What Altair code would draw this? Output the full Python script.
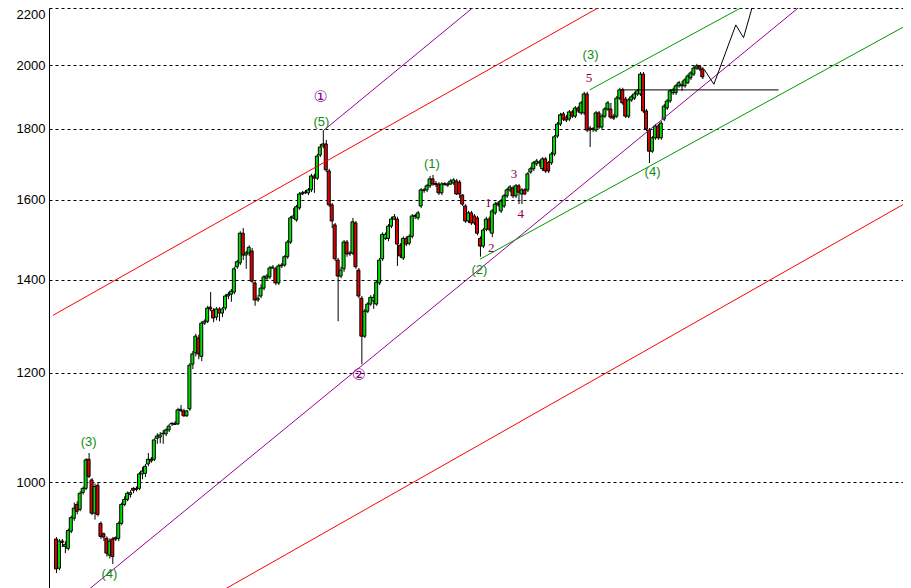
import altair as alt
import pandas as pd

# ---------------- candle data (one candle per period) ----------------
opens = [
    910, 867, 907, 899, 896, 922, 942, 964, 956, 983,
    990, 1039, 1004, 950, 995, 934, 918, 911, 886, 910,
    912, 911, 934, 964, 972, 980, 990, 988, 990, 1014,
    1015, 1031, 1039, 1039, 1076, 1078, 1084, 1084, 1091, 1102,
    1101, 1102, 1127, 1126, 1117, 1130, 1217, 1240, 1271, 1233,
    1303, 1307, 1338, 1331, 1316, 1334, 1325, 1336, 1363, 1367,
    1372, 1431, 1440, 1513, 1459, 1464, 1469, 1393, 1354, 1363,
    1381, 1404, 1407, 1428, 1426, 1393, 1433, 1435, 1455, 1491,
    1552, 1547, 1578, 1615, 1618, 1618, 1626, 1664, 1658, 1723,
    1749, 1755, 1678, 1586, 1534, 1447, 1409, 1426, 1491, 1462,
    1464, 1539, 1423, 1358, 1275, 1329, 1345, 1352, 1345, 1393,
    1450, 1500, 1500, 1531, 1549, 1549, 1483, 1452, 1500, 1488,
    1505, 1556, 1552, 1583, 1624, 1626, 1637, 1656, 1641, 1642,
    1618, 1641, 1642, 1642, 1645, 1650, 1647, 1612, 1583, 1544,
    1565, 1557, 1552, 1500, 1481, 1523, 1549, 1513, 1565, 1591,
    1570, 1583, 1610, 1626, 1631, 1610, 1637, 1615, 1626, 1626,
    1675, 1684, 1698, 1701, 1684, 1712, 1701, 1701, 1726, 1778,
    1814, 1845, 1835, 1829, 1851, 1838, 1863, 1848, 1848, 1907,
    1802, 1798, 1796, 1848, 1805, 1838, 1860, 1860, 1838, 1838,
    1894, 1920, 1891, 1838, 1888, 1894, 1907, 1907, 1971, 1854,
    1796, 1734, 1773, 1808, 1773, 1829, 1863, 1885, 1911, 1911,
    1933, 1936, 1933, 1943, 1959, 1971, 1991, 1998, 1988,
]
closes = [
    866, 907, 905, 902, 923, 943, 958, 953, 982, 990,
    1038, 1010, 950, 993, 948, 914, 913, 889, 907, 884,
    910, 934, 964, 972, 982, 983, 987, 990, 1014, 1019,
    1027, 1039, 1036, 1073, 1080, 1082, 1085, 1091, 1098, 1103,
    1103, 1128, 1129, 1117, 1126, 1215, 1238, 1275, 1238, 1303,
    1307, 1336, 1334, 1314, 1334, 1325, 1334, 1363, 1367, 1374,
    1426, 1443, 1513, 1459, 1464, 1478, 1397, 1354, 1358, 1381,
    1407, 1409, 1428, 1430, 1393, 1433, 1435, 1455, 1491, 1552,
    1557, 1581, 1615, 1618, 1620, 1626, 1664, 1658, 1720, 1746,
    1755, 1681, 1586, 1544, 1450, 1409, 1423, 1491, 1462, 1464,
    1542, 1431, 1363, 1275, 1329, 1345, 1360, 1360, 1395, 1447,
    1510, 1510, 1531, 1549, 1555, 1486, 1457, 1500, 1486, 1505,
    1557, 1558, 1565, 1626, 1626, 1637, 1656, 1642, 1643, 1618,
    1642, 1643, 1639, 1650, 1653, 1615, 1615, 1588, 1544, 1565,
    1539, 1539, 1513, 1481, 1521, 1549, 1523, 1570, 1588, 1586,
    1596, 1610, 1626, 1634, 1610, 1637, 1620, 1626, 1615, 1670,
    1684, 1701, 1706, 1703, 1712, 1678, 1678, 1726, 1776, 1814,
    1842, 1829, 1826, 1851, 1838, 1863, 1854, 1879, 1907, 1796,
    1796, 1800, 1848, 1805, 1838, 1860, 1879, 1835, 1832, 1894,
    1920, 1879, 1838, 1888, 1898, 1907, 1917, 1971, 1854, 1799,
    1734, 1773, 1808, 1773, 1817, 1869, 1885, 1917, 1920, 1933,
    1943, 1933, 1952, 1965, 1975, 1991, 1998, 1988, 1962,
]
highs = [
    913, 910, 910, 907, 926, 946, 967, 969, 985, 993,
    1041, 1050, 1007, 998, 1000, 937, 920, 914, 911, 913,
    914, 937, 967, 977, 985, 987, 992, 993, 1017, 1026,
    1031, 1050, 1043, 1076, 1085, 1087, 1091, 1094, 1102, 1105,
    1107, 1132, 1137, 1130, 1128, 1219, 1244, 1280, 1278, 1307,
    1311, 1341, 1372, 1336, 1338, 1338, 1338, 1367, 1372, 1379,
    1431, 1447, 1518, 1526, 1469, 1483, 1476, 1397, 1365, 1390,
    1411, 1414, 1433, 1435, 1431, 1438, 1440, 1459, 1496, 1557,
    1578, 1586, 1620, 1623, 1626, 1631, 1670, 1670, 1726, 1755,
    1793, 1767, 1684, 1591, 1539, 1452, 1431, 1496, 1496, 1469,
    1552, 1544, 1428, 1363, 1334, 1349, 1365, 1367, 1400, 1452,
    1515, 1515, 1536, 1555, 1562, 1555, 1488, 1505, 1505, 1510,
    1562, 1562, 1570, 1631, 1631, 1642, 1664, 1667, 1650, 1647,
    1647, 1647, 1647, 1656, 1658, 1656, 1653, 1615, 1588, 1570,
    1570, 1562, 1557, 1505, 1526, 1555, 1555, 1575, 1594, 1596,
    1602, 1615, 1631, 1639, 1637, 1642, 1642, 1631, 1631, 1675,
    1690, 1706, 1712, 1709, 1717, 1717, 1706, 1732, 1781, 1820,
    1848, 1851, 1842, 1857, 1857, 1869, 1869, 1885, 1914, 1914,
    1808, 1805, 1854, 1854, 1845, 1866, 1885, 1879, 1845, 1901,
    1927, 1927, 1898, 1894, 1904, 1914, 1923, 1978, 1978, 1860,
    1802, 1778, 1814, 1814, 1823, 1876, 1891, 1923, 1927, 1939,
    1949, 1949, 1959, 1971, 1981, 1998, 2005, 2001, 1994,
]
lows = [
    860, 864, 898, 889, 893, 919, 938, 948, 953, 980,
    987, 1007, 947, 940, 945, 910, 907, 884, 881, 873,
    907, 907, 931, 961, 969, 975, 982, 985, 987, 1005,
    1009, 1027, 1033, 1036, 1066, 1067, 1066, 1080, 1087, 1098,
    1100, 1100, 1124, 1115, 1115, 1126, 1207, 1233, 1227, 1223,
    1299, 1303, 1329, 1305, 1309, 1307, 1316, 1331, 1356, 1350,
    1367, 1426, 1435, 1447, 1426, 1457, 1393, 1341, 1350, 1358,
    1376, 1400, 1402, 1426, 1388, 1388, 1428, 1431, 1450, 1486,
    1549, 1542, 1573, 1612, 1615, 1612, 1620, 1618, 1653, 1717,
    1743, 1675, 1581, 1526, 1445, 1307, 1404, 1419, 1455, 1457,
    1459, 1426, 1358, 1217, 1271, 1325, 1341, 1334, 1341, 1388,
    1445, 1496, 1493, 1526, 1547, 1433, 1452, 1447, 1481, 1483,
    1500, 1549, 1547, 1578, 1618, 1620, 1631, 1637, 1634, 1612,
    1612, 1637, 1634, 1639, 1639, 1612, 1604, 1583, 1539, 1539,
    1534, 1534, 1508, 1455, 1476, 1518, 1518, 1503, 1560, 1581,
    1565, 1578, 1604, 1620, 1604, 1604, 1588, 1588, 1612, 1620,
    1670, 1678, 1692, 1690, 1678, 1672, 1672, 1695, 1720, 1772,
    1808, 1823, 1820, 1823, 1832, 1832, 1848, 1842, 1842, 1790,
    1746, 1790, 1790, 1799, 1799, 1832, 1854, 1829, 1826, 1832,
    1888, 1873, 1832, 1832, 1882, 1888, 1901, 1901, 1848, 1793,
    1700, 1729, 1767, 1767, 1767, 1823, 1857, 1879, 1904, 1904,
    1927, 1917, 1927, 1939, 1952, 1965, 1985, 1981, 1955,
]

# ---------------- drawn trend lines: (period index, price) end points ----------------
red_upper_i = [-1, 187]
red_upper_v = [1320, 2226]
red_lower_i = [54.7, 288]
red_lower_v = [832, 1597]
purple_lower_i = [3, 259.7]
purple_lower_v = [810, 2285]
purple_upper_i = [90, 148]
purple_upper_v = [1793, 2268]
green_lower_i = [143, 289.7]
green_lower_v = [1449, 2154]
green_upper_i = [180, 241.3]
green_upper_v = [1920, 2262]
level_i = [190.3, 243.7]
level_v = [1920, 1920]
path_i = [218.6, 221.9, 229.3, 231.9, 236.3]
path_v = [1987, 1938, 2139, 2094, 2260]

# ---------------- wave labels ----------------
wave_text = ["(3)", "(4)", "(5)", "(1)", "(2)", "(3)", "(4)"]
wave_i = [11, 18, 89.5, 126.8, 142.8, 180.3, 201.2]
wave_v = [1069, 858, 1820, 1697, 1424, 2036, 1675]
circle_text = ["\u2460", "\u2461"]
circle_i = [89.3, 102.2]
circle_v = [1897, 1195]
sub_text = ["1", "2", "3", "4", "5"]
sub_i = [145.8, 146.8, 154.5, 156.8, 179.8]
sub_v = [1591, 1476, 1669, 1562, 1957]

y_ticks = [1000, 1200, 1400, 1600, 1800, 2000, 2200]

# ---------------- build ----------------
n = len(closes)
assert len(opens) == n and len(highs) == n and len(lows) == n
candles = pd.DataFrame({"i": list(range(n)), "open": opens, "high": highs,
                        "low": lows, "close": closes})
candles["dir"] = ["up" if c >= o else "down" for o, c in zip(opens, closes)]

PLOT_W = 854
xs = alt.Scale(domain=[-2 / 3, PLOT_W / 3 - 2 / 3], nice=False, zero=False)
ys = alt.Scale(type="log", domain=[838.9, 2200], nice=False, zero=False)
yaxis = alt.Axis(values=y_ticks, title=None, grid=True, ticks=False,
                 gridDash=[3, 3], gridColor="#000000", gridOpacity=1, gridWidth=1,
                 domainColor="#000000", domainWidth=1, labelColor="#000000",
                 labelFont="Liberation Sans", labelFontSize=13, labelPadding=4,
                 labelFlush=True, labelOverlap=False, format="d")


def X(f):
    return alt.X(f, scale=xs, axis=None)


def Y(f):
    return alt.Y(f, scale=ys, axis=yaxis)


base = alt.Chart(candles)
wicks = base.mark_rule(color="#000000", strokeWidth=1, xOffset=0.5).encode(
    x=X("i:Q"), y=Y("low:Q"), y2="high:Q")
bodies = base.mark_bar(size=3, stroke="#000000", strokeWidth=1).encode(
    x=X("i:Q"), y=Y("open:Q"), y2="close:Q",
    color=alt.Color("dir:N", scale=alt.Scale(domain=["up", "down"],
                                             range=["#00e000", "#e00000"]), legend=None))


def seg(ii, vv, color):
    d = pd.DataFrame({"i": ii, "v": vv})
    return alt.Chart(d).mark_line(color=color, strokeWidth=1, clip=True).encode(
        x=X("i:Q"), y=Y("v:Q"))


lines = [
    seg(red_upper_i, red_upper_v, "#ff0000"),
    seg(red_lower_i, red_lower_v, "#ff0000"),
    seg(purple_lower_i, purple_lower_v, "#990099"),
    seg(purple_upper_i, purple_upper_v, "#990099"),
    seg(green_lower_i, green_lower_v, "#009900"),
    seg(green_upper_i, green_upper_v, "#009900"),
    seg(level_i, level_v, "#000000"),
    seg(path_i, path_v, "#000000"),
]


def labels(tt, ii, vv, color, font, size):
    d = pd.DataFrame({"i": ii, "v": vv, "t": tt})
    return alt.Chart(d).mark_text(font=font, fontSize=size, color=color,
                                  align="center", baseline="middle").encode(
        x=X("i:Q"), y=Y("v:Q"), text="t:N")


texts = [
    labels(wave_text, wave_i, wave_v, "#118c11", "Liberation Sans", 13),
    labels(circle_text, circle_i, circle_v, "#8c008c", "DejaVu Sans", 16),
    labels(sub_text, sub_i, sub_v, "#8c0050", "Liberation Serif", 13),
]

chart = alt.layer(wicks, bodies, *lines, *texts).properties(
    width=PLOT_W, height=580,
    padding={"left": 41, "top": 0, "right": 0, "bottom": 0},
    autosize=alt.AutoSizeParams(type="none"),
    background="#ffffff",
).configure_view(stroke=None)

chart.save("out.html", embed_options={"renderer": "svg", "actions": False})
